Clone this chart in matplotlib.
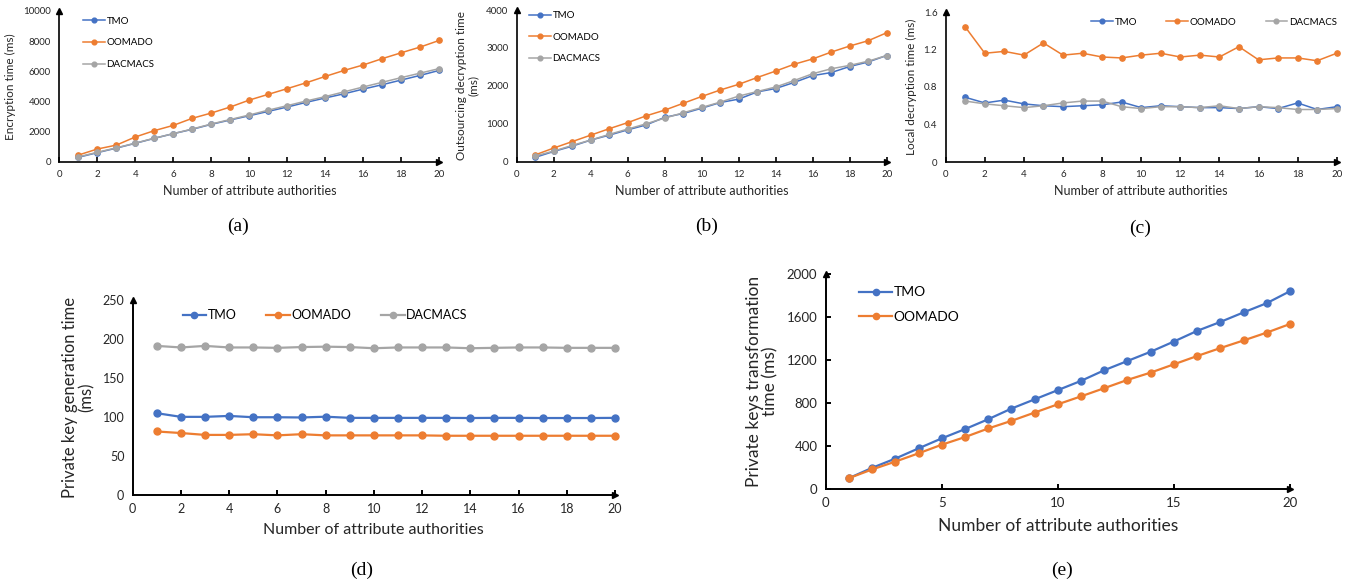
import matplotlib
matplotlib.use("Agg")
import matplotlib.pyplot as plt
import numpy as np

plt.rcParams['font.family'] = ['Lato', 'DejaVu Sans']

W, H = 1352, 583

x = list(range(1, 21))

# (a) Encryption time (ms)
a_tmo = [290, 600, 900, 1220, 1550, 1860, 2150, 2480, 2770, 3050, 3340, 3630, 3940, 4230, 4510, 4820, 5110, 5420, 5730, 6060]
a_oomado = [440, 840, 1100, 1640, 2060, 2410, 2880, 3230, 3630, 4090, 4470, 4850, 5240, 5660, 6060, 6420, 6840, 7230, 7610, 8050]
a_dacmacs = [320, 620, 920, 1230, 1560, 1860, 2170, 2500, 2800, 3100, 3420, 3720, 4030, 4320, 4640, 4960, 5270, 5580, 5880, 6180]

# (b) Outsourcing decryption time (ms)
b_tmo = [115, 270, 410, 570, 700, 840, 970, 1170, 1270, 1410, 1560, 1650, 1840, 1930, 2090, 2270, 2350, 2510, 2630, 2800]
b_oomado = [180, 360, 530, 700, 870, 1030, 1210, 1360, 1540, 1720, 1890, 2040, 2220, 2390, 2570, 2710, 2890, 3050, 3190, 3400]
b_dacmacs = [150, 280, 430, 570, 720, 860, 1000, 1150, 1290, 1430, 1570, 1730, 1850, 1970, 2140, 2320, 2450, 2540, 2650, 2800]

# (c) Local decryption time (ms)
c_tmo = [0.69, 0.63, 0.66, 0.62, 0.60, 0.59, 0.60, 0.61, 0.64, 0.58, 0.60, 0.59, 0.58, 0.58, 0.57, 0.59, 0.57, 0.63, 0.56, 0.59]
c_oomado = [1.44, 1.16, 1.18, 1.14, 1.27, 1.14, 1.16, 1.12, 1.11, 1.14, 1.16, 1.12, 1.14, 1.12, 1.23, 1.09, 1.11, 1.11, 1.08, 1.16]
c_dacmacs = [0.65, 0.62, 0.60, 0.58, 0.60, 0.63, 0.65, 0.65, 0.59, 0.57, 0.59, 0.59, 0.58, 0.60, 0.57, 0.59, 0.58, 0.56, 0.56, 0.57]

# (d) Private key generation time (ms)
d_tmo = [104.5, 99.8, 99.8, 101, 99.3, 99.3, 99, 100, 98.5, 98.5, 98.5, 98.5, 98.5, 98.3, 98.5, 98.5, 98.3, 98.3, 98.3, 98.5]
d_oomado = [81, 79, 76.6, 76.6, 77.5, 76, 77.5, 76, 76, 76, 76, 76, 75.5, 75.5, 75.5, 75.5, 75.5, 75.5, 75.5, 75.5]
d_dacmacs = [191, 189, 191, 189, 189, 188.5, 189.5, 190, 189.5, 188, 189, 189, 189, 188, 188.5, 189, 189, 188.5, 188.5, 188.5]

# (e) Private keys transformation time (ms)
e_tmo = [101, 197, 283, 378, 471, 557, 649, 748, 834, 920, 1006, 1105, 1191, 1277, 1372, 1471, 1554, 1643, 1729, 1840]
e_oomado = [101, 182, 255, 332, 412, 483, 563, 634, 711, 788, 862, 938, 1015, 1083, 1160, 1237, 1311, 1382, 1455, 1535]

C_TMO = '#4472C4'
C_OOM = '#ED7D31'
C_DAC = '#A5A5A5'
TXT = '#262626'

fig = plt.figure(figsize=(W / 100, H / 100), dpi=100)


def axes_px(x0, x1, y0, y1):
    return fig.add_axes([x0 / W, (H - y0) / H, (x1 - x0) / W, (y0 - y1) / H])


def style(ax, xticks, yticks, ylim, tick_fs, ytick_in=False, lw=1.2):
    ax.set_xlim(0, 20)
    ax.set_ylim(*ylim)
    ax.set_xticks(xticks)
    ax.set_yticks(yticks)
    for s in ['top', 'right']:
        ax.spines[s].set_visible(False)
    for s in ['left', 'bottom']:
        ax.spines[s].set_linewidth(lw)
        ax.spines[s].set_color('black')
    ax.tick_params(axis='x', direction='in', length=3.5, width=lw, labelsize=tick_fs,
                   labelcolor=TXT, pad=6)
    if ytick_in:
        ax.tick_params(axis='y', direction='in', length=3.5, width=lw, labelsize=tick_fs,
                       labelcolor=TXT, pad=6)
    else:
        ax.tick_params(axis='y', length=0, labelsize=tick_fs, labelcolor=TXT, pad=6)
    ax.plot(1, 0, marker='>', color='black', markersize=4.5, transform=ax.transAxes, clip_on=False)
    ax.plot(0, 1, marker='^', color='black', markersize=4.5, transform=ax.transAxes, clip_on=False)
    ax.patch.set_alpha(0)


def plot_series(ax, series, lw, ms):
    for ys, c, lab in series:
        ax.plot(x, ys, color=c, marker='o', markersize=ms, linewidth=lw, label=lab, clip_on=False)


CAP = dict(family='Liberation Serif', fontsize=14, ha='center', va='center')

# ---------- (a)
ax = axes_px(59.3, 439.3, 161.7, 11)
plot_series(ax, [(a_tmo, C_TMO, 'TMO'), (a_oomado, C_OOM, 'OOMADO'), (a_dacmacs, C_DAC, 'DACMACS')], 1.1, 3.8)
style(ax, range(0, 21, 2), range(0, 10001, 2000), (0, 10000), 7)
ax.set_xlabel('Number of attribute authorities', fontsize=9, color=TXT, labelpad=4)
ax.set_ylabel('Encryption time (ms)', fontsize=8.5, color=TXT, labelpad=5)
ax.legend(loc='upper left', bbox_to_anchor=(0.04, 1.02), frameon=False, fontsize=7,
          handlelength=2.2, labelspacing=1.3, handletextpad=0.2, markerscale=0.9)
fig.text(238 / W, 1 - 226 / H, '(a)', **CAP)

# ---------- (b)
ax = axes_px(516.7, 886.7, 161.7, 10)
plot_series(ax, [(b_tmo, C_TMO, 'TMO'), (b_oomado, C_OOM, 'OOMADO'), (b_dacmacs, C_DAC, 'DACMACS')], 1.1, 3.8)
style(ax, range(0, 21, 2), range(0, 4001, 1000), (0, 4000), 7)
ax.set_xlabel('Number of attribute authorities', fontsize=9, color=TXT, labelpad=4)
ax.set_ylabel('Outsourcing decryption time\n(ms)', fontsize=8.5, color=TXT, labelpad=5, linespacing=1.1)
ax.legend(loc='upper left', bbox_to_anchor=(0.01, 1.05), frameon=False, fontsize=7,
          handlelength=2.2, labelspacing=1.3, handletextpad=0.2, markerscale=0.9)
fig.text(707 / W, 1 - 226 / H, '(b)', **CAP)

# ---------- (c)
ax = axes_px(945.7, 1336.7, 162, 12)
plot_series(ax, [(c_tmo, C_TMO, 'TMO'), (c_oomado, C_OOM, 'OOMADO'), (c_dacmacs, C_DAC, 'DACMACS')], 1.1, 3.8)
style(ax, range(0, 21, 2), [0, 0.4, 0.8, 1.2, 1.6], (0, 1.6), 7)
ax.set_yticklabels(['0', '0.4', '0.8', '1.2', '1.6'])
ax.set_xlabel('Number of attribute authorities', fontsize=9, color=TXT, labelpad=4)
ax.set_ylabel('Local decryption time (ms)', fontsize=8.5, color=TXT, labelpad=5)
ax.legend(loc='upper left', bbox_to_anchor=(0.35, 1.02), frameon=False, fontsize=7, ncol=3,
          handlelength=2.2, columnspacing=3.0, handletextpad=0.2, markerscale=0.9)
fig.text(1140 / W, 1 - 228 / H, '(c)', **CAP)

# ---------- (d)
ax = axes_px(132.7, 615, 494.5, 300)
plot_series(ax, [(d_tmo, C_TMO, 'TMO'), (d_oomado, C_OOM, 'OOMADO'), (d_dacmacs, C_DAC, 'DACMACS')], 1.6, 5)
style(ax, range(0, 21, 2), range(0, 251, 50), (0, 250), 9, lw=1.4)
ax.set_xlabel('Number of attribute authorities', fontsize=11.5, color=TXT, labelpad=6)
ax.set_ylabel('Private key generation time\n(ms)', fontsize=12, color=TXT, labelpad=6, linespacing=1.05)
ax.legend(loc='upper left', bbox_to_anchor=(0.08, 1.01), frameon=False, fontsize=9, ncol=3,
          handlelength=1.9, columnspacing=2.4, handletextpad=0.1, markerscale=0.9)
fig.text(362 / W, 1 - 570 / H, '(d)', **CAP)

# ---------- (e)
ax = axes_px(825.7, 1290, 489, 274)
plot_series(ax, [(e_tmo, C_TMO, 'TMO'), (e_oomado, C_OOM, 'OOMADO')], 1.6, 5)
style(ax, range(0, 21, 5), range(0, 2001, 400), (0, 2000), 9.5, ytick_in=True, lw=1.4)
ax.set_xlabel('Number of attribute authorities', fontsize=12.5, color=TXT, labelpad=6)
ax.set_ylabel('Private keys transformation\ntime (ms)', fontsize=12.5, color=TXT, labelpad=6, linespacing=1.05)
ax.legend(loc='upper left', bbox_to_anchor=(0.045, 1.0), frameon=False, fontsize=10,
          handlelength=2.4, labelspacing=0.9, handletextpad=0.1, markerscale=0.9)
fig.text(1062 / W, 1 - 570 / H, '(e)', **CAP)

fig.savefig('out.png', dpi=100)
